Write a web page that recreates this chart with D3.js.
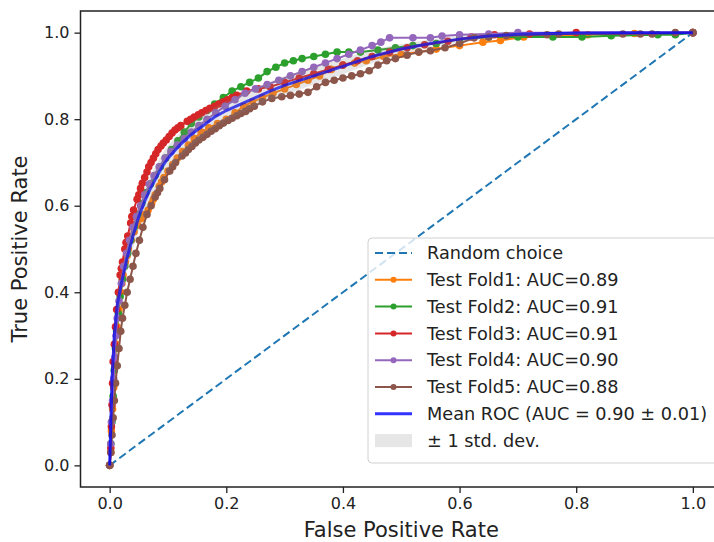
<!DOCTYPE html>
<html lang="en">
<head>
<meta charset="utf-8">
<title>ROC curves - 5 fold cross validation</title>
<script src="https://d3js.org/d3.v7.min.js"></script>
<style>
  body { margin: 0; background: #fff; }
  svg { display: block; font-family: "DejaVu Sans", sans-serif; }
</style>
</head>
<body>
<script>
// ROC points, [fpr, tpr]
const fold1 = [[0,0],[0.002,0.03],[0.003,0.08],[0.005,0.13],[0.007,0.18],[0.009,0.23],[0.011,0.28],[0.013,0.32],[0.016,0.36],[0.019,0.4],[0.021,0.42],[0.023,0.44],[0.027,0.47],[0.03,0.485],[0.032,0.5],[0.037,0.52],[0.042,0.54],[0.048,0.555],[0.054,0.57],[0.06,0.58],[0.066,0.59],[0.072,0.605],[0.075,0.615],[0.078,0.625],[0.085,0.645],[0.089,0.655],[0.093,0.665],[0.1,0.68],[0.108,0.695],[0.116,0.71],[0.125,0.725],[0.135,0.74],[0.145,0.755],[0.157,0.77],[0.17,0.78],[0.185,0.79],[0.2,0.8],[0.215,0.815],[0.23,0.83],[0.245,0.84],[0.262,0.85],[0.28,0.86],[0.3,0.87],[0.32,0.88],[0.34,0.89],[0.36,0.9],[0.38,0.915],[0.4,0.925],[0.42,0.93],[0.44,0.935],[0.47,0.945],[0.5,0.95],[0.53,0.955],[0.56,0.962],[0.6,0.97],[0.64,0.978],[0.67,0.982],[0.71,0.99],[0.76,0.992],[0.82,0.995],[0.9,0.998],[1,1]];
const fold2 = [[0,0],[0.002,0.05],[0.004,0.1],[0.006,0.16],[0.008,0.22],[0.01,0.27],[0.012,0.31],[0.015,0.35],[0.018,0.39],[0.022,0.43],[0.026,0.46],[0.031,0.49],[0.036,0.52],[0.042,0.55],[0.048,0.58],[0.055,0.605],[0.062,0.63],[0.07,0.65],[0.078,0.67],[0.087,0.69],[0.096,0.71],[0.106,0.73],[0.117,0.75],[0.128,0.77],[0.14,0.79],[0.153,0.805],[0.167,0.82],[0.18,0.835],[0.195,0.85],[0.21,0.865],[0.225,0.875],[0.24,0.885],[0.255,0.895],[0.27,0.91],[0.285,0.92],[0.3,0.93],[0.315,0.935],[0.33,0.94],[0.35,0.945],[0.37,0.95],[0.39,0.955],[0.41,0.955],[0.43,0.955],[0.46,0.96],[0.49,0.965],[0.52,0.97],[0.56,0.975],[0.6,0.985],[0.65,0.99],[0.7,0.99],[0.76,0.99],[0.81,0.99],[0.86,0.993],[0.94,0.995],[0.97,0.995],[1,1]];
const fold3 = [[0,0],[0.002,0.04],[0.003,0.09],[0.004,0.14],[0.005,0.19],[0.006,0.24],[0.008,0.28],[0.01,0.32],[0.012,0.36],[0.015,0.4],[0.018,0.44],[0.02,0.455],[0.022,0.47],[0.026,0.5],[0.028,0.515],[0.031,0.53],[0.036,0.56],[0.038,0.575],[0.041,0.59],[0.047,0.615],[0.05,0.625],[0.053,0.64],[0.056,0.652],[0.06,0.665],[0.064,0.678],[0.067,0.69],[0.071,0.7],[0.075,0.71],[0.079,0.72],[0.083,0.73],[0.088,0.738],[0.092,0.745],[0.097,0.752],[0.102,0.76],[0.107,0.768],[0.112,0.775],[0.117,0.78],[0.122,0.785],[0.133,0.795],[0.139,0.8],[0.145,0.805],[0.152,0.81],[0.158,0.815],[0.165,0.82],[0.172,0.825],[0.18,0.83],[0.187,0.835],[0.195,0.84],[0.202,0.845],[0.21,0.85],[0.218,0.855],[0.235,0.865],[0.255,0.87],[0.275,0.875],[0.3,0.885],[0.325,0.895],[0.35,0.905],[0.375,0.915],[0.4,0.925],[0.425,0.935],[0.45,0.945],[0.48,0.955],[0.51,0.965],[0.54,0.972],[0.58,0.98],[0.62,0.99],[0.66,0.995],[0.72,0.997],[0.8,1],[1,1]];
const fold4 = [[0,0],[0.002,0.05],[0.003,0.1],[0.005,0.15],[0.007,0.2],[0.009,0.25],[0.011,0.3],[0.013,0.34],[0.016,0.38],[0.02,0.42],[0.024,0.46],[0.029,0.49],[0.034,0.52],[0.04,0.55],[0.046,0.575],[0.053,0.6],[0.06,0.625],[0.068,0.65],[0.076,0.67],[0.085,0.69],[0.095,0.71],[0.105,0.725],[0.116,0.74],[0.128,0.755],[0.14,0.77],[0.153,0.785],[0.167,0.8],[0.182,0.815],[0.198,0.83],[0.215,0.845],[0.232,0.86],[0.25,0.87],[0.27,0.88],[0.29,0.89],[0.31,0.9],[0.33,0.91],[0.35,0.92],[0.37,0.93],[0.39,0.94],[0.41,0.95],[0.43,0.96],[0.45,0.97],[0.465,0.978],[0.48,0.988],[0.52,0.988],[0.55,0.988],[0.57,0.992],[0.6,0.995],[0.65,0.997],[0.7,1],[1,1]];
const fold5 = [[0,0],[0.002,0.03],[0.004,0.07],[0.006,0.11],[0.008,0.15],[0.01,0.19],[0.013,0.23],[0.016,0.27],[0.019,0.31],[0.022,0.34],[0.026,0.37],[0.03,0.4],[0.035,0.43],[0.04,0.46],[0.045,0.49],[0.051,0.52],[0.057,0.55],[0.064,0.58],[0.071,0.6],[0.078,0.62],[0.082,0.63],[0.086,0.64],[0.094,0.66],[0.103,0.68],[0.108,0.69],[0.113,0.7],[0.124,0.715],[0.13,0.722],[0.135,0.73],[0.141,0.737],[0.147,0.745],[0.153,0.752],[0.16,0.758],[0.167,0.765],[0.174,0.772],[0.181,0.778],[0.188,0.785],[0.195,0.791],[0.203,0.797],[0.21,0.802],[0.218,0.808],[0.225,0.813],[0.233,0.818],[0.24,0.824],[0.248,0.83],[0.262,0.84],[0.278,0.848],[0.295,0.852],[0.31,0.855],[0.325,0.858],[0.34,0.862],[0.355,0.875],[0.37,0.885],[0.385,0.89],[0.4,0.895],[0.415,0.9],[0.43,0.905],[0.445,0.912],[0.46,0.925],[0.475,0.935],[0.49,0.94],[0.51,0.948],[0.53,0.955],[0.55,0.958],[0.575,0.965],[0.6,0.975],[0.625,0.988],[0.65,0.99],[0.68,0.993],[0.75,0.995],[0.77,0.997],[0.88,0.997],[0.91,0.997],[0.93,0.997],[0.97,1],[1,1]];

const meanFpr = [0, 0.002, 0.004, 0.008, 0.013, 0.02, 0.03, 0.04, 0.05, 0.06, 0.07, 0.08, 0.09, 0.1, 0.12, 0.14, 0.16, 0.18, 0.2, 0.225, 0.25, 0.275, 0.3, 0.35, 0.4, 0.45, 0.5, 0.55, 0.6, 0.65, 0.7, 0.8, 0.9, 1.0];
const meanTpr = [0, 0.1, 0.2, 0.3, 0.37, 0.42, 0.48, 0.53, 0.575, 0.61, 0.64, 0.665, 0.69, 0.71, 0.74, 0.765, 0.785, 0.805, 0.82, 0.835, 0.85, 0.865, 0.878, 0.9, 0.922, 0.945, 0.962, 0.975, 0.985, 0.992, 0.996, 0.999, 1.0, 1.0];
const stdTpr  = [0, 0.02, 0.03, 0.03, 0.03, 0.03, 0.03, 0.03, 0.03, 0.03, 0.03, 0.03, 0.03, 0.03, 0.028, 0.027, 0.025, 0.023, 0.022, 0.022, 0.022, 0.022, 0.022, 0.02, 0.018, 0.016, 0.012, 0.01, 0.008, 0.005, 0.003, 0.002, 0.001, 0];

const foldLabels = ["Test Fold1: AUC=0.89", "Test Fold2: AUC=0.91", "Test Fold3: AUC=0.91", "Test Fold4: AUC=0.90", "Test Fold5: AUC=0.88"];
const meanLabel = "Mean ROC (AUC = 0.90 \u00b1 0.01)";
const stdLabel = "\u00b1 1 std. dev.";
const chanceLabel = "Random choice";
const ticks = [0, 0.2, 0.4, 0.6, 0.8, 1.0];

const folds = [fold1, fold2, fold3, fold4, fold5];
const colors = ["#ff7f0e", "#2ca02c", "#d62728", "#9467bd", "#8c564b"];

const width = 714, height = 542;
const mLeft = 80.5, mRight = 722, mTop = 11, mBottom = 487;

const x = d3.scaleLinear().domain([-0.05, 1.05]).range([mLeft, mRight]);
const y = d3.scaleLinear().domain([-0.05, 1.05]).range([mBottom, mTop]);

const svg = d3.select("body").append("svg")
  .attr("width", width)
  .attr("height", height);

svg.append("clipPath").attr("id", "plot")
  .append("rect")
  .attr("x", mLeft).attr("y", mTop)
  .attr("width", mRight - mLeft).attr("height", mBottom - mTop);

const plot = svg.append("g").attr("clip-path", "url(#plot)");

// chance line
plot.append("line")
  .attr("x1", x(0)).attr("y1", y(0))
  .attr("x2", x(1)).attr("y2", y(1))
  .attr("stroke", "#1f77b4")
  .attr("stroke-width", 2)
  .attr("stroke-dasharray", "8,4");

const line = d3.line().x(d => x(d[0])).y(d => y(d[1]));

folds.forEach((f, i) => {
  const g = plot.append("g");
  g.append("path")
    .attr("d", line(f))
    .attr("fill", "none")
    .attr("stroke", colors[i])
    .attr("stroke-width", 2);
  g.selectAll("circle")
    .data(f)
    .enter()
    .append("circle")
    .attr("cx", d => x(d[0]))
    .attr("cy", d => y(d[1]))
    .attr("r", 3.8)
    .attr("fill", colors[i]);
});

const meanData = meanFpr.map((v, i) => ({fpr: v, tpr: meanTpr[i], sd: stdTpr[i]}));

plot.append("path")
  .datum(meanData)
  .attr("d", d3.line().x(d => x(d.fpr)).y(d => y(d.tpr)))
  .attr("fill", "none")
  .attr("stroke", "#0000ff")
  .attr("stroke-opacity", 0.8)
  .attr("stroke-width", 3);

plot.append("path")
  .datum(meanData)
  .attr("d", d3.area()
    .x(d => x(d.fpr))
    .y0(d => y(Math.max(d.tpr - d.sd, 0)))
    .y1(d => y(Math.min(d.tpr + d.sd, 1))))
  .attr("fill", "grey")
  .attr("fill-opacity", 0.2);

// axes
const xAxis = d3.axisBottom(x).tickValues(ticks).tickFormat(d3.format(".1f")).tickSize(6).tickPadding(5);
const yAxis = d3.axisLeft(y).tickValues(ticks).tickFormat(d3.format(".1f")).tickSize(6).tickPadding(5);

const gx = svg.append("g")
  .attr("transform", "translate(0," + mBottom + ")")
  .call(xAxis);
const gy = svg.append("g")
  .attr("transform", "translate(" + mLeft + ",0)")
  .call(yAxis);

[gx, gy].forEach(g => {
  g.select(".domain").remove();
  g.selectAll("line").attr("stroke", "#222").attr("stroke-width", 1.3);
  g.selectAll("text")
    .attr("fill", "#222")
    .style("font-family", "DejaVu Sans")
    .style("font-size", "16px");
});

svg.append("rect")
  .attr("x", mLeft).attr("y", mTop)
  .attr("width", mRight - mLeft).attr("height", mBottom - mTop)
  .attr("fill", "none")
  .attr("stroke", "#222")
  .attr("stroke-width", 1.5);

svg.append("text")
  .attr("x", (mLeft + mRight) / 2)
  .attr("y", 537)
  .attr("text-anchor", "middle")
  .attr("fill", "#222")
  .style("font-size", "21px")
  .text("False Positive Rate");

svg.append("text")
  .attr("transform", "translate(27," + ((mTop + mBottom) / 2) + ") rotate(-90)")
  .attr("text-anchor", "middle")
  .attr("fill", "#222")
  .style("font-size", "21px")
  .text("True Positive Rate");

// legend
const legend = svg.append("g").attr("transform", "translate(368,238)");
legend.append("rect")
  .attr("width", 352).attr("height", 225)
  .attr("rx", 4)
  .attr("fill", "white").attr("fill-opacity", 0.8)
  .attr("stroke", "#d0d0d0");

const rowY = i => 15 + i * 26.8;
const hx0 = 7, hx1 = 44, tx = 59;

legend.append("line")
  .attr("x1", hx0).attr("x2", hx1)
  .attr("y1", rowY(0)).attr("y2", rowY(0))
  .attr("stroke", "#1f77b4").attr("stroke-width", 2)
  .attr("stroke-dasharray", "8,4");

folds.forEach((f, i) => {
  legend.append("line")
    .attr("x1", hx0).attr("x2", hx1)
    .attr("y1", rowY(i + 1)).attr("y2", rowY(i + 1))
    .attr("stroke", colors[i]).attr("stroke-width", 2);
  legend.append("circle")
    .attr("cx", (hx0 + hx1) / 2).attr("cy", rowY(i + 1))
    .attr("r", 3).attr("fill", colors[i]);
});

legend.append("line")
  .attr("x1", hx0).attr("x2", hx1)
  .attr("y1", rowY(6)).attr("y2", rowY(6))
  .attr("stroke", "#0000ff").attr("stroke-opacity", 0.8).attr("stroke-width", 3);

legend.append("rect")
  .attr("x", hx0).attr("y", rowY(7) - 6.5)
  .attr("width", hx1 - hx0).attr("height", 13)
  .attr("fill", "grey").attr("fill-opacity", 0.2);

const labels = [chanceLabel].concat(foldLabels, [meanLabel, stdLabel]);
legend.selectAll("text.lab")
  .data(labels)
  .enter()
  .append("text")
  .attr("class", "lab")
  .attr("x", tx)
  .attr("y", (d, i) => rowY(i))
  .attr("dy", "0.35em")
  .attr("fill", "#222")
  .style("font-size", "17.7px")
  .text(d => d);
</script>
</body>
</html>
